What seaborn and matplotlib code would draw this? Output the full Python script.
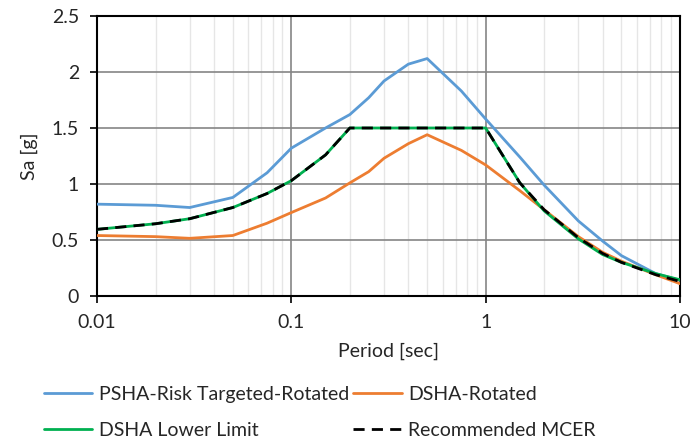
import numpy as np
import pandas as pd
import matplotlib
matplotlib.use("Agg")
import matplotlib.pyplot as plt
import seaborn as sns
from matplotlib.ticker import FixedLocator, NullFormatter, LogLocator

periods = [0.01, 0.02, 0.03, 0.05, 0.075, 0.1, 0.15, 0.2, 0.25, 0.3, 0.4, 0.5,
           0.75, 1.0, 1.5, 2.0, 3.0, 4.0, 5.0, 7.5, 10.0]
psha_rt = [0.82, 0.81, 0.79, 0.88, 1.10, 1.32, 1.50, 1.62, 1.77, 1.92, 2.07, 2.12,
           1.83, 1.58, 1.24, 0.99, 0.67, 0.49, 0.36, 0.20, 0.14]
dsha_rot = [0.54, 0.53, 0.515, 0.54, 0.65, 0.745, 0.875, 1.01, 1.11, 1.23, 1.36, 1.44,
            1.30, 1.17, 0.94, 0.77, 0.53, 0.39, 0.31, 0.19, 0.11]
dsha_ll = [0.595, 0.645, 0.69, 0.79, 0.915, 1.03, 1.26, 1.50, 1.50, 1.50, 1.50, 1.50,
           1.50, 1.50, 1.01, 0.76, 0.51, 0.37, 0.30, 0.20, 0.145]
mcer = [0.595, 0.645, 0.69, 0.79, 0.915, 1.03, 1.26, 1.50, 1.50, 1.50, 1.50, 1.50,
        1.50, 1.50, 1.01, 0.77, 0.52, 0.38, 0.30, 0.19, 0.13]
labels = ["PSHA-Risk Targeted-Rotated", "DSHA-Rotated", "DSHA Lower Limit", "Recommended MCER"]
x_ticks = [0.01, 0.1, 1, 10]
x_tick_labels = ["0.01", "0.1", "1", "10"]
y_ticks = [0, 0.5, 1, 1.5, 2, 2.5]
y_tick_labels = ["0", "0.5", "1", "1.5", "2", "2.5"]

sns.set_style("white")
plt.rcParams['font.family'] = ['Lato', 'DejaVu Sans']

fig = plt.figure(figsize=(6.93, 4.44), dpi=100)
ax = fig.add_axes([97/693, 1-296/444, (680-97)/693, (296-16)/444])

colors = ["#5B9BD5", "#ED7D31", "#00B050", "black"]
series = [psha_rt, dsha_rot, dsha_ll, mcer]
styles = ["-", "-", "-", (0, (4, 2.6))]
for s, lab, c, ls in zip(series, labels, colors, styles):
    df = pd.DataFrame({"T": periods, "Sa": s})
    sns.lineplot(data=df, x="T", y="Sa", ax=ax, color=c, linewidth=2.0,
                 linestyle=ls, label=lab, zorder=3)

ax.set_xscale("log")
ax.set_xlim(0.01, 10)
ax.set_ylim(0, 2.5)
ax.xaxis.set_major_locator(FixedLocator(x_ticks))
ax.set_xticklabels(x_tick_labels)
ax.xaxis.set_minor_locator(LogLocator(base=10, subs=np.arange(2, 10)))
ax.xaxis.set_minor_formatter(NullFormatter())
ax.set_yticks(y_ticks)
ax.set_yticklabels(y_tick_labels)

ax.grid(which="major", color="#858585", linewidth=1.2, zorder=0)
ax.grid(which="minor", axis="x", color="#e6e6e6", linewidth=1.0, zorder=0)
ax.set_axisbelow(True)
for sp in ax.spines.values():
    sp.set_color("black")
    sp.set_linewidth(1.5)
ax.tick_params(axis="both", which="major", direction="out", length=5, width=1.2,
               color="black", labelsize=14, labelcolor="#262626", pad=8, left=True, bottom=True)
ax.tick_params(axis="x", which="minor", length=0)

ax.set_xlabel("Period [sec]", fontsize=14, color="#262626", labelpad=8)
ax.set_ylabel("Sa [g]", fontsize=14, color="#262626", labelpad=10)

handles, labs = ax.get_legend_handles_labels()
if ax.legend_:
    ax.legend_.remove()
order = [0, 2, 1, 3]
leg = fig.legend([handles[i] for i in order], [labs[i] for i in order], ncol=2,
                 loc="center left", bbox_to_anchor=(26/693, 1-412.5/444), frameon=False,
                 fontsize=14, handlelength=2.5, columnspacing=0.2, labelspacing=1.0,
                 handletextpad=0.35, borderpad=0.4)
for t in leg.get_texts():
    t.set_color("#262626")

fig.savefig("out.png", dpi=100)
